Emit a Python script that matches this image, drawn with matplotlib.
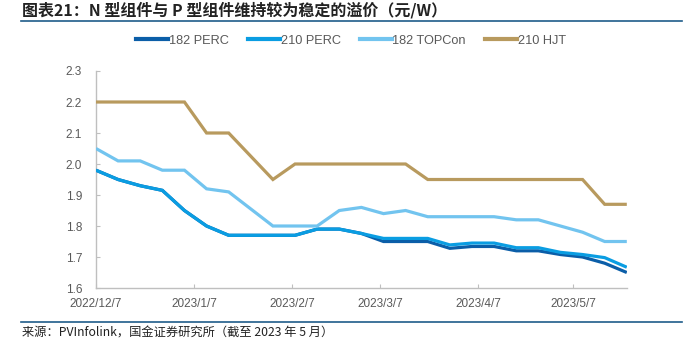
import matplotlib
matplotlib.use("Agg")
import matplotlib.pyplot as plt
import pandas as pd
from matplotlib.lines import Line2D

plt.rcParams['font.family'] = ['Liberation Sans', 'Noto Sans CJK SC', 'DejaVu Sans']

dates = pd.date_range("2022-12-07", "2023-05-24", freq="7D")

perc_182 = [1.98, 1.95, 1.93, 1.915, 1.85, 1.80, 1.77, 1.77, 1.77, 1.77, 1.79, 1.79, 1.776,
            1.75, 1.75, 1.75, 1.728, 1.734, 1.734, 1.72, 1.72, 1.708, 1.70, 1.68, 1.65]
perc_210 = [1.98, 1.95, 1.93, 1.915, 1.85, 1.80, 1.77, 1.77, 1.77, 1.77, 1.79, 1.79, 1.776,
            1.76, 1.76, 1.76, 1.739, 1.745, 1.745, 1.73, 1.73, 1.715, 1.708, 1.698, 1.667]
topcon_182 = [2.05, 2.01, 2.01, 1.98, 1.98, 1.92, 1.91, 1.855, 1.80, 1.80, 1.80, 1.85, 1.86,
              1.84, 1.85, 1.83, 1.83, 1.83, 1.83, 1.82, 1.82, 1.80, 1.78, 1.75, 1.75]
hjt_210 = [2.20, 2.20, 2.20, 2.20, 2.20, 2.10, 2.10, 2.025, 1.95, 2.00, 2.00, 2.00, 2.00,
           2.00, 2.00, 1.95, 1.95, 1.95, 1.95, 1.95, 1.95, 1.95, 1.95, 1.87, 1.87]

series_names = ["182 PERC", "210 PERC", "182 TOPCon", "210 HJT"]
series_values = [perc_182, perc_210, topcon_182, hjt_210]
colors = ["#0B5EA8", "#0A9DE2", "#72C4EF", "#B89A5E"]

xtick_dates = pd.to_datetime(["2022-12-07", "2023-01-07", "2023-02-07", "2023-03-07",
                              "2023-04-07", "2023-05-07"])
xtick_labels = ["2022/12/7", "2023/1/7", "2023/2/7", "2023/3/7", "2023/4/7", "2023/5/7"]
yticks = [1.6, 1.7, 1.8, 1.9, 2.0, 2.1, 2.2, 2.3]

fig = plt.figure(figsize=(6.98, 3.55), dpi=100)
ax = fig.add_axes([0.1375, 0.1887, 0.898 - 0.1375, 0.80 - 0.1887])

# draw order: 210 PERC lies on top of 182 PERC where they overlap
order = [3, 2, 0, 1]
for i in order:
    ax.plot(dates, series_values[i], color=colors[i], lw=2.3, solid_joinstyle='miter',
            solid_capstyle='butt', zorder=3 + i)

ax.set_xlim(dates[0], dates[-1])
ax.set_ylim(1.6, 2.3)
ax.set_yticks(yticks)
ax.set_yticklabels([f"{v:.1f}" for v in yticks])
ax.set_xticks(xtick_dates)
ax.set_xticklabels(xtick_labels)

for s in ["top", "right"]:
    ax.spines[s].set_visible(False)
for s in ["left", "bottom"]:
    ax.spines[s].set_color("#BFBFBF")
    ax.spines[s].set_linewidth(1.0)
ax.tick_params(axis='both', direction='in', length=3, color="#BFBFBF",
               labelsize=8.5, labelcolor="#595959")
ax.tick_params(axis='x', pad=7)
ax.tick_params(axis='y', pad=10)

handles = [Line2D([], [], color=colors[i], lw=3) for i in range(4)]
fig.legend(handles, series_names, loc='center', bbox_to_anchor=(0.503, 0.885), ncol=4,
           frameon=False, fontsize=9.2, handlelength=2.5, columnspacing=1.5,
           handletextpad=0.05, labelcolor="#595959")

fig.text(0.032, 0.995, "图表21：N 型组件与 P 型组件维持较为稳定的溢价（元/W）",
         fontsize=11.5, fontweight='bold', color="#222222", va='top', ha='left',
         family=['Noto Sans CJK SC', 'DejaVu Sans'])
fig.add_artist(Line2D([0.03, 0.977], [0.942, 0.942], color="#1F5C8A", lw=1.2,
                      transform=fig.transFigure))
fig.add_artist(Line2D([0.03, 0.977], [0.092, 0.092], color="#1F5C8A", lw=1.2,
                      transform=fig.transFigure))
fig.text(0.031, 0.062, "来源：PVInfolink，国金证券研究所（截至 2023 年 5 月）",
         fontsize=8.8, color="#222222", va='center', ha='left',
         family=['Noto Sans CJK SC', 'DejaVu Sans'])

fig.savefig("out.png", dpi=100)
